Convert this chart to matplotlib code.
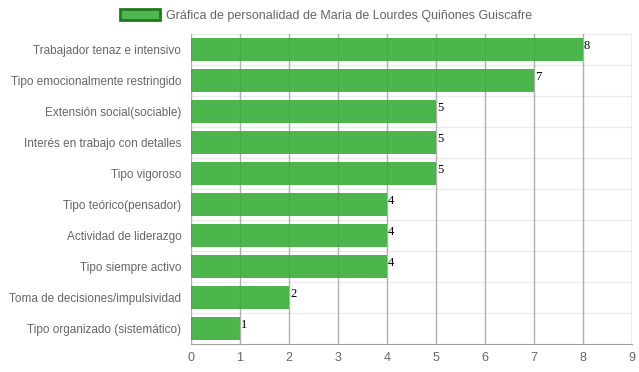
import matplotlib.pyplot as plt
from matplotlib.patches import Patch

categories = [
    "Trabajador tenaz e intensivo",
    "Tipo emocionalmente restringido",
    "Extensión social(sociable)",
    "Interés en trabajo con detalles",
    "Tipo vigoroso",
    "Tipo teórico(pensador)",
    "Actividad de liderazgo",
    "Tipo siempre activo",
    "Toma de decisiones/impulsividad",
    "Tipo organizado (sistemático)",
]
values = [8, 7, 5, 5, 5, 4, 4, 4, 2, 1]
title = "Gráfica de personalidad de Maria de Lourdes Quiñones Guiscafre"

plt.rcParams['font.family'] = ['Liberation Sans', 'DejaVu Sans']

fig = plt.figure(figsize=(6.39, 3.72), dpi=100)
ax = fig.add_axes([191 / 639, 1 - 344 / 372, 441 / 639, 310 / 372])

pos = list(range(len(categories)))
ax.barh(pos, values, height=0.72, color=(0.22, 0.68, 0.22, 0.9), zorder=2)

for p, v in zip(pos, values):
    ax.text(v + 0.02, p - 0.1, str(v), family='Liberation Serif', fontsize=9,
            color='black', ha='left', va='center', zorder=3)

ax.set_ylim(len(categories) - 0.5, -0.5)
ax.set_xlim(0, 9)
ax.set_xticks(range(10))
ax.set_yticks(pos)
ax.set_yticklabels(categories)

# vertical grid lines
ax.grid(axis='x', color='#b0b0b0', linewidth=1, zorder=1)
# faint lines between categories
for b in [p + 0.5 for p in pos[:-1]]:
    ax.axhline(b, color='#ebebeb', linewidth=1, zorder=1)
ax.axhline(-0.5, color='#ebebeb', linewidth=1, zorder=1)

for side in ['top', 'right', 'left']:
    ax.spines[side].set_visible(False)
ax.spines['bottom'].set_color('#a0a0a0')
ax.tick_params(axis='both', colors='#666666', length=0)
ax.tick_params(axis='x', pad=6, labelsize=9)
ax.tick_params(axis='y', pad=7, labelsize=8.5)
for lab in ax.get_xticklabels() + ax.get_yticklabels():
    lab.set_color('#666666')

handle = Patch(facecolor='#4db84d', edgecolor='#1f7a1f', linewidth=2)
fig.legend([handle], [title], loc='upper center', bbox_to_anchor=(0.51, 1.005),
           frameon=False, fontsize=9, labelcolor='#666666',
           handlelength=3.2, handleheight=0.9, handletextpad=0.5)

fig.savefig("out.png", dpi=100)
